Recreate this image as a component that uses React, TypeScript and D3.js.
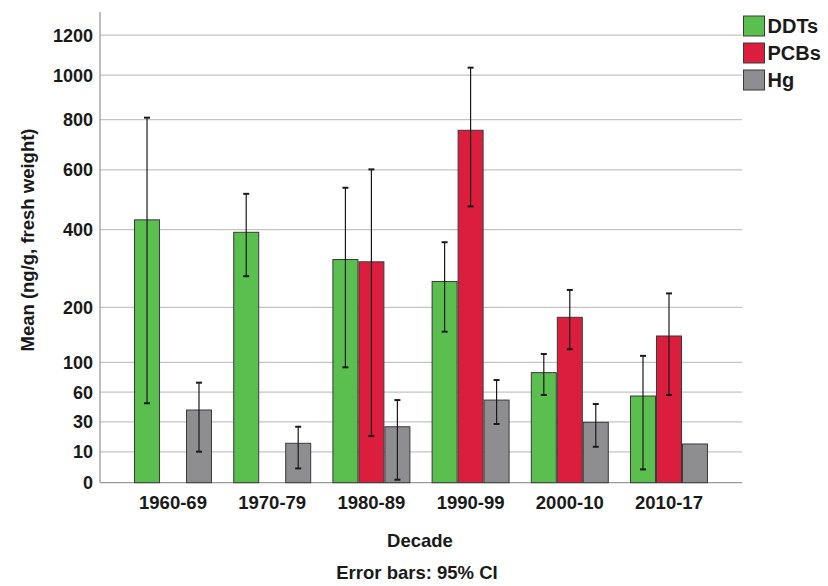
import React from "react";
import * as d3 from "d3";

const decades = ["1960-69", "1970-79", "1980-89", "1990-99", "2000-10", "2010-17"];
const seriesNames = ["DDTs", "PCBs", "Hg"];
const seriesColors = ["#5abf4f", "#dc1e3e", "#8e8e90"];

// means (null = no data)
const ddtMean = [430, 392, 315, 259, 85, 55.5];
const ddtLow = [47.6, 272, 92.6, 151.6, 56.7, 3];
const ddtHigh = [808, 515, 536, 363, 113, 110];

const pcbMean = [null, null, 309, 755, 179.5, 143.7];
const pcbLow = [null, null, 19.3, 473, 120.7, 56.7];
const pcbHigh = [null, null, 602, 1036, 239, 231];

const hgMean = [40.8, 14.7, 26.1, 51, 29.7, 14.3];
const hgLow = [10.1, 3.3, 0.5, 28.3, 12.7, null];
const hgHigh = [71.6, 26.1, 51, 75, 46.8, null];

const yTicks = [0, 10, 30, 60, 100, 200, 400, 600, 800, 1000, 1200];

const W = 828;
const H = 586;
const left = 100;
const right = 742;
const top = 12;

export default function App() {
  // square-root scale of (value + 1)
  const s = d3.scaleSqrt().domain([0, 1324]).range([496, top]);
  const y = (v: number) => s(v + 1);
  const baseY = y(0);

  const x0 = d3.scaleBand<string>().domain(decades).range([left, right]).paddingInner(0.214).paddingOuter(0.343);
  const x1 = d3.scaleBand<string>().domain(seriesNames).range([0, x0.bandwidth()]);

  const means = [ddtMean, pcbMean, hgMean];
  const lows = [ddtLow, pcbLow, hgLow];
  const highs = [ddtHigh, pcbHigh, hgHigh];

  const font = "Liberation Sans, Arial, sans-serif";
  const txt = "#1a1a1a";

  return (
    <svg width={W} height={H} style={{ position: "absolute", left: 0, top: 0, background: "#fff" }} fontFamily={font}>
      {/* gridlines */}
      {yTicks.slice(1).map((t) => (
        <line key={t} x1={left} x2={right} y1={y(t)} y2={y(t)} stroke="#c4c4c4" strokeWidth={1.3} />
      ))}
      {/* axes */}
      <line x1={left} x2={left} y1={top} y2={baseY} stroke="#9a9a9a" strokeWidth={1.3} />
      <line x1={left} x2={right} y1={baseY} y2={baseY} stroke="#9a9a9a" strokeWidth={1.3} />
      {/* y tick labels */}
      {yTicks.map((t) => (
        <text key={t} x={93} y={y(t)} dy="0.36em" textAnchor="end" fontSize={18} fontWeight="bold" fill={txt}>
          {t}
        </text>
      ))}
      {/* bars */}
      {decades.map((d, i) => (
        <g key={d} transform={`translate(${x0(d)},0)`}>
          {seriesNames.map((sn, j) => {
            const m = means[j][i];
            if (m == null) return null;
            const bx = x1(sn)!;
            const bw = x1.bandwidth();
            return (
              <rect key={sn} x={bx + 0.5} y={y(m)} width={bw - 1} height={baseY - y(m)} fill={seriesColors[j]} stroke="#3a3a3a" strokeWidth={1} />
            );
          })}
          {seriesNames.map((sn, j) => {
            const lo = lows[j][i];
            const hi = highs[j][i];
            if (lo == null || hi == null) return null;
            const cx = x1(sn)! + x1.bandwidth() / 2;
            return (
              <g key={sn + "e"} stroke="#1a1a1a" strokeWidth={1.2}>
                <line x1={cx} x2={cx} y1={y(lo)} y2={y(hi)} />
                <line x1={cx - 3} x2={cx + 3} y1={y(lo)} y2={y(lo)} strokeWidth={2} />
                <line x1={cx - 3} x2={cx + 3} y1={y(hi)} y2={y(hi)} strokeWidth={2} />
              </g>
            );
          })}
        </g>
      ))}
      {/* x tick labels */}
      {decades.map((d) => (
        <text key={d} x={x0(d)! + x0.bandwidth() / 2} y={509} textAnchor="middle" fontSize={18.5} fontWeight="bold" fill={txt}>
          {d}
        </text>
      ))}
      {/* titles */}
      <text x={420} y={546.5} textAnchor="middle" fontSize={18.5} fontWeight="bold" fill={txt}>Decade</text>
      <text x={417} y={579} textAnchor="middle" fontSize={18.5} fontWeight="bold" fill={txt}>Error bars: 95% CI</text>
      <text transform="translate(33.5,240) rotate(-90)" textAnchor="middle" fontSize={18.5} fontWeight="bold" fill={txt}>
        Mean (ng/g, fresh weight)
      </text>
      {/* legend */}
      {seriesNames.map((sn, j) => (
        <g key={sn} transform={`translate(743.5,${16 + j * 27})`}>
          <rect x={0} y={0} width={21} height={20} fill={seriesColors[j]} stroke="#3a3a3a" strokeWidth={1} />
          <text x={24} y={10} dy="0.36em" fontSize={20} fontWeight="bold" fill={txt}>{sn}</text>
        </g>
      ))}
    </svg>
  );
}
